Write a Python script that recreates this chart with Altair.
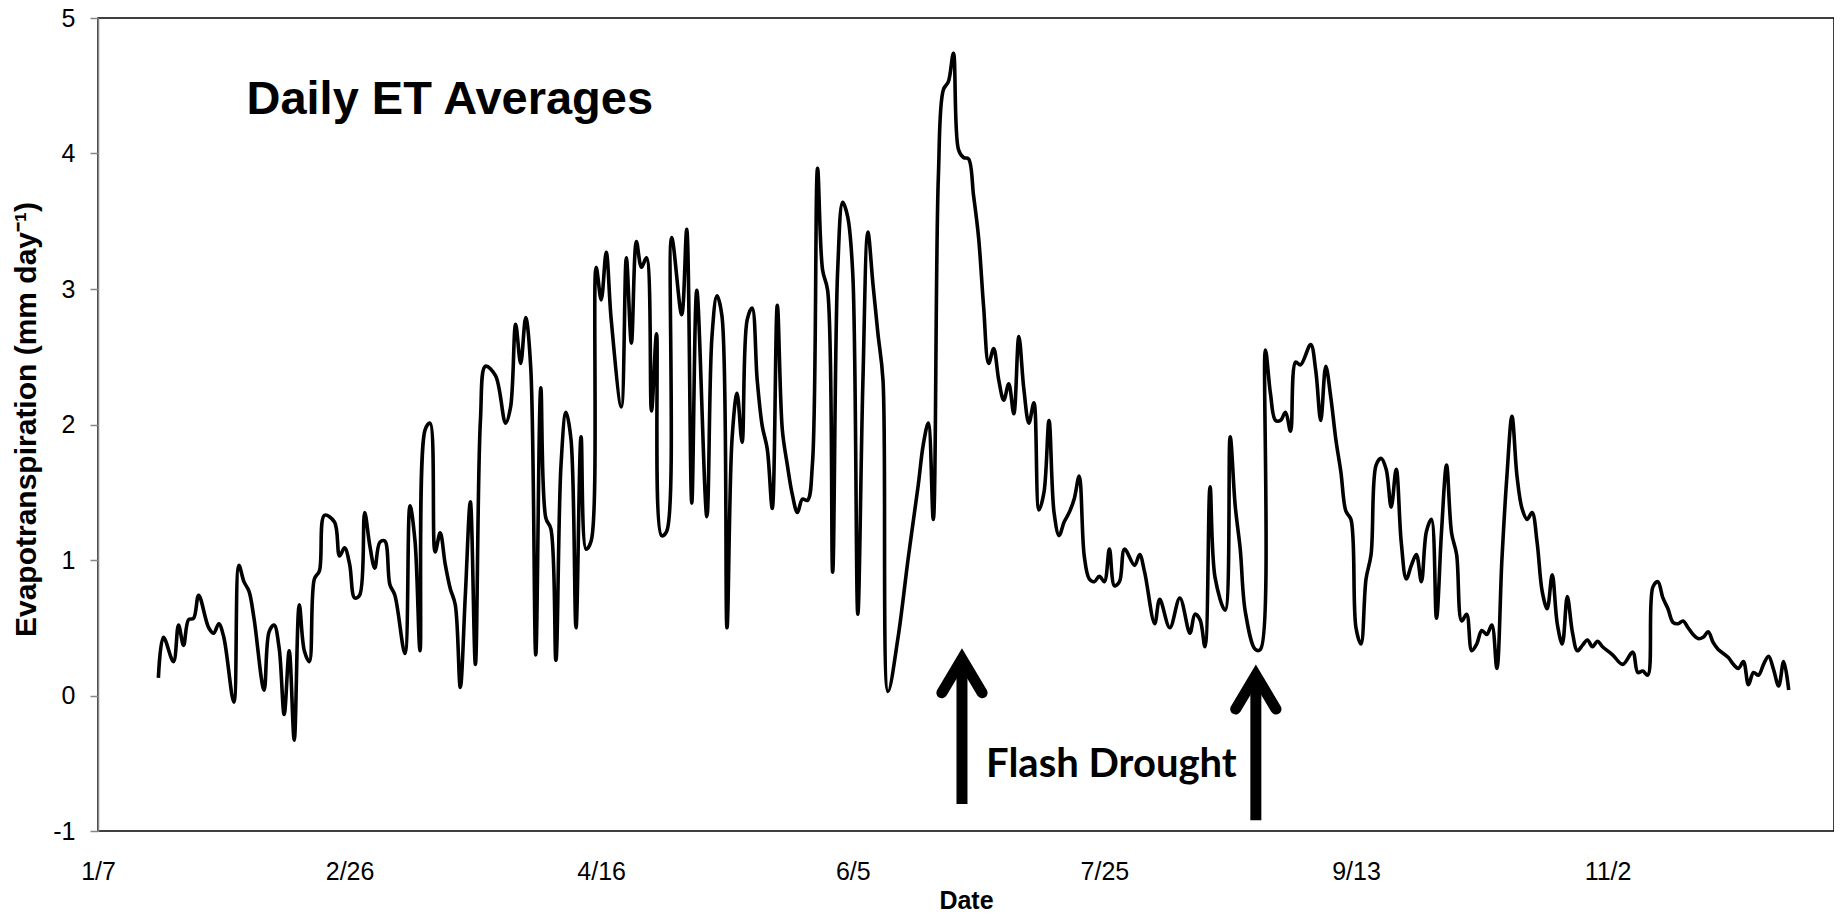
import altair as alt
import pandas as pd

# ---- data (2012, day offsets from Jan 7) ----
days = [12, 13, 15, 16, 17, 18, 19, 20, 22, 23, 24, 25, 27, 28, 29, 30, 31, 33, 34, 35,
        36, 37, 38, 39, 40, 41, 42, 43, 44, 45, 47, 48, 49, 50, 51, 52, 53, 54, 55, 56,
        57, 58, 59, 61, 62, 63, 64, 65, 66, 67, 68, 69, 70, 71, 72, 73, 74, 75, 76, 77,
        79, 81, 82, 83, 84, 85, 86, 87, 88, 89, 90, 91, 92, 93, 94, 95, 96, 97, 98, 99,
        100, 101, 102, 104, 105, 106, 107, 108, 109, 110, 111, 112, 113, 114, 116, 117, 118, 119, 121, 122,
        123, 124, 125, 126, 127, 128, 129, 130, 131, 132, 133, 134, 135, 136, 137, 138, 139, 140, 141, 142,
        143, 144, 145, 146, 147, 148, 149, 150, 151, 152, 153, 154, 155, 156, 157, 159, 161, 163, 164, 165,
        166, 167, 168, 169, 170, 171, 172, 173, 174, 175, 176, 177, 178, 179, 180, 181, 182, 183, 184, 185,
        186, 187, 188, 189, 190, 191, 192, 193, 194, 195, 196, 197, 198, 199, 200, 201, 202, 203, 204, 206,
        207, 208, 210, 211, 213, 215, 217, 218, 219, 220, 221, 222, 224, 225, 226, 227, 228, 230, 231, 232,
        233, 234, 235, 236, 237, 238, 239, 241, 242, 243, 244, 245, 246, 247, 248, 249, 250, 251, 252, 253,
        254, 255, 256, 257, 258, 259, 260, 261, 262, 263, 264, 265, 266, 267, 268, 269, 270, 271, 272, 273,
        274, 275, 276, 277, 278, 279, 280, 281, 282, 283, 284, 285, 286, 287, 288, 289, 290, 291, 292, 293,
        294, 295, 296, 297, 298, 299, 301, 303, 305, 306, 307, 308, 309, 310, 311, 312, 313, 314, 315, 316,
        317, 318, 319, 320, 321, 322, 324, 325, 326, 327, 328, 329, 330, 331, 332, 333, 334, 335, 336]

et = [0.13, 0.43, 0.25, 0.52, 0.37, 0.56, 0.57, 0.74, 0.50, 0.46, 0.53, 0.43, -0.05, 0.96, 0.84, 0.77, 0.57, 0.04, 0.47, 0.52,
      0.35, -0.14, 0.33, -0.33, 0.67, 0.33, 0.25, 0.86, 0.92, 1.33, 1.28, 1.03, 1.09, 0.97, 0.72, 0.74, 1.35, 1.11, 0.94, 1.13,
      1.14, 0.82, 0.74, 0.31, 1.40, 1.14, 0.33, 1.96, 2.01, 1.06, 1.20, 0.97, 0.79, 0.67, 0.06, 0.74, 1.43, 0.23, 2.03, 2.43,
      2.36, 2.01, 2.13, 2.74, 2.45, 2.79, 2.42, 0.30, 2.27, 1.31, 1.23, 0.26, 1.69, 2.09, 1.89, 0.50, 1.91, 1.08, 1.14, 3.16,
      2.92, 3.27, 2.77, 2.13, 3.23, 2.60, 3.35, 3.16, 3.23, 2.10, 2.67, 1.18, 1.21, 3.38, 2.81, 3.44, 1.42, 2.99, 1.32, 2.64,
      2.95, 2.80, 0.50, 1.89, 2.23, 1.87, 2.77, 2.86, 2.33, 1.99, 1.82, 1.38, 2.88, 1.96, 1.70, 1.48, 1.35, 1.45, 1.44, 1.72,
      3.89, 3.14, 2.99, 0.91, 3.14, 3.64, 3.53, 3.11, 0.60, 2.30, 3.42, 3.04, 2.67, 2.33, 0.03, 0.43, 1.01, 1.55, 1.85, 2.01,
      1.30, 3.82, 4.47, 4.53, 4.74, 4.03, 3.97, 3.96, 3.69, 3.38, 2.87, 2.45, 2.56, 2.33, 2.18, 2.30, 2.08, 2.65, 2.26, 2.01,
      2.16, 1.37, 1.50, 2.03, 1.35, 1.18, 1.28, 1.35, 1.45, 1.62, 1.03, 0.86, 0.84, 0.88, 0.84, 1.08, 0.81, 0.84, 1.08, 0.96,
      1.04, 0.91, 0.53, 0.71, 0.50, 0.72, 0.46, 0.60, 0.56, 0.36, 1.54, 0.87, 0.63, 1.91, 1.40, 1.08, 0.62, 0.34, 0.34, 2.55,
      2.23, 2.03, 2.03, 2.09, 1.95, 2.46, 2.44, 2.59, 2.40, 2.03, 2.43, 2.20, 1.89, 1.65, 1.36, 1.30, 0.50, 0.38, 0.86, 1.04,
      1.70, 1.75, 1.67, 1.39, 1.67, 1.13, 0.86, 0.96, 1.04, 0.84, 1.21, 1.30, 0.57, 1.21, 1.70, 1.20, 1.04, 0.55, 0.60, 0.33,
      0.38, 0.48, 0.45, 0.52, 0.20, 1.00, 1.62, 2.06, 1.62, 1.38, 1.30, 1.35, 1.13, 0.77, 0.64, 0.89, 0.53, 0.38, 0.73, 0.47,
      0.33, 0.37, 0.41, 0.36, 0.40, 0.36, 0.30, 0.23, 0.32, 0.17, 0.18, 0.15, 0.80, 0.84, 0.72, 0.64, 0.54, 0.53, 0.55, 0.50,
      0.45, 0.42, 0.43, 0.47, 0.39, 0.34, 0.28, 0.23, 0.20, 0.25, 0.08, 0.17, 0.15, 0.23, 0.29, 0.19, 0.07, 0.25, 0.04]

tick_labels = ["1/7", "2/26", "4/16", "6/5", "7/25", "9/13", "11/2"]
y_ticks = [-1, 0, 1, 2, 3, 4, 5]
x_end_day = 345

# annotations (day offset, value)
title_text = "Daily ET Averages"
title_pos = (29.5, 4.29)
drought_text = "Flash Drought"
drought_pos = (201.4, -0.60)
arrow_days = [171.7, 230.1]
arrow_tips = [0.27, 0.15]
arrow_bases = [-0.80, -0.92]

YEAR = 2012
START = pd.Timestamp(f"{YEAR}-01-07", tz="UTC")


def iso(d):
    return (START + pd.Timedelta(days=d)).strftime("%Y-%m-%dT%H:%M:%SZ")


def ms(ts):
    return int(ts.timestamp() * 1000)


df = pd.DataFrame({"date": [iso(d) for d in days], "value": et})

tick_ms = []
for lab in tick_labels:
    m, dd = lab.split("/")
    tick_ms.append(ms(pd.Timestamp(year=YEAR, month=int(m), day=int(dd), tz="UTC")))

x_scale = alt.Scale(type="utc", domain=[ms(START), ms(START + pd.Timedelta(days=x_end_day))])
y_scale = alt.Scale(domain=[-1, 5], nice=False, zero=False)

FONT = "Liberation Sans"
PLOT_W, PLOT_H = 1736, 813

x_axis = alt.Axis(values=tick_ms, format="%-m/%-d", ticks=False, domain=False, grid=False,
                  labelFont=FONT, labelFontSize=25, labelColor="black", labelPadding=28,
                  titleFont=FONT, titleFontSize=25, titleFontWeight="bold", titleColor="black",
                  titlePadding=4, labelFlush=False)
y_axis = alt.Axis(values=y_ticks, labelExpr="'' + datum.value", grid=False, tickSize=8,
                  tickColor="#868686", tickWidth=1.5,
                  domainColor="#868686", domainWidth=1.5,
                  labelFont=FONT, labelFontSize=25, labelColor="black", labelPadding=15,
                  titleFont=FONT, titleFontSize=30, titleFontWeight="bold", titleColor="black",
                  titleAngle=270, titleAlign="center", titleBaseline="middle",
                  titleX=-72, titleY=401)

line = alt.Chart(df).mark_line(color="black", strokeWidth=3.6, interpolate="catmull-rom").encode(
    x=alt.X("date:T", scale=x_scale, axis=x_axis, title="Date"),
    y=alt.Y("value:Q", scale=y_scale, axis=y_axis, title="Evapotranspiration (mm day⁻¹)"),
)

# arrows
shaft_df = pd.DataFrame({
    "date": [iso(d) for d in arrow_days],
    "value": arrow_tips,
    "value2": arrow_bases,
})
shaft = alt.Chart(shaft_df).mark_rule(color="black", strokeWidth=11, strokeCap="butt").encode(
    x="date:T", y="value:Q", y2="value2:Q")

head_half_w = 4.0   # days
head_drop = 0.25    # value units
head_rows = []
for i, (d, t) in enumerate(zip(arrow_days, arrow_tips)):
    head_rows.append({"arrow": i, "k": 0, "date": iso(d - head_half_w), "value": t - head_drop})
    head_rows.append({"arrow": i, "k": 1, "date": iso(d), "value": t})
    head_rows.append({"arrow": i, "k": 2, "date": iso(d + head_half_w), "value": t - head_drop})
head_df = pd.DataFrame(head_rows)
head = alt.Chart(head_df).mark_line(color="black", strokeWidth=11, strokeCap="round",
                                    strokeJoin="miter").encode(
    x="date:T", y="value:Q", detail="arrow:N", order="k:Q")

title_df = pd.DataFrame({"date": [iso(title_pos[0])], "value": [title_pos[1]], "text": [title_text]})
title_mark = alt.Chart(title_df).mark_text(align="left", baseline="alphabetic", font=FONT,
                                           fontSize=47, fontWeight="bold", color="black").encode(
    x="date:T", y="value:Q", text="text:N")

drought_df = pd.DataFrame({"date": [iso(drought_pos[0])], "value": [drought_pos[1]], "text": [drought_text]})
drought_mark = alt.Chart(drought_df).mark_text(align="center", baseline="alphabetic", font="Lato",
                                               fontSize=40, fontWeight="bold", color="black").encode(
    x="date:T", y="value:Q", text="text:N")

chart = alt.layer(line, shaft, head, title_mark, drought_mark).properties(
    width=PLOT_W, height=PLOT_H,
    autosize=alt.AutoSizeParams(type="none"),
    padding={"left": 90, "top": 10, "right": 0, "bottom": 82},
    background="white",
).configure_view(stroke="black", strokeWidth=1.5)

chart.save("out.html", embed_options={"renderer": "svg", "actions": False})
